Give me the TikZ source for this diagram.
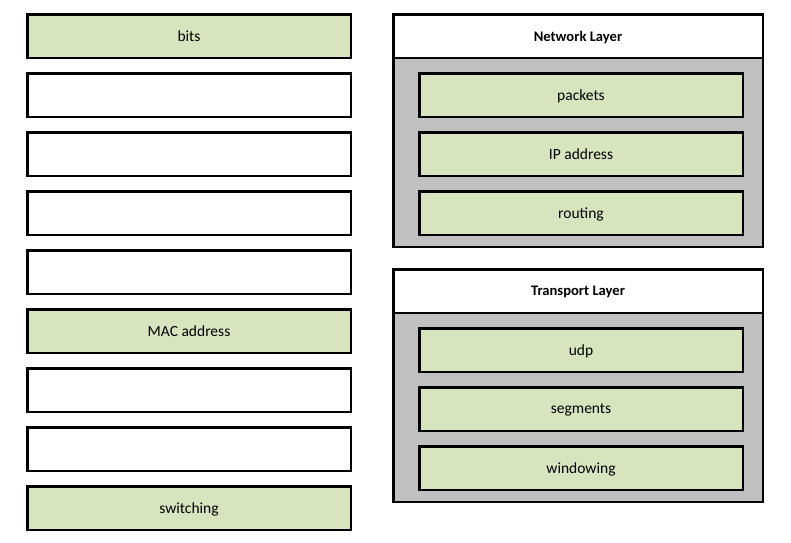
\documentclass[tikz,border=0pt]{standalone}
\usepackage{fontspec}
\setmainfont{Carlito}
\definecolor{boxgreen}{HTML}{D7E4BD}
\definecolor{panelgray}{HTML}{C0C0C0}
\begin{document}
\begin{tikzpicture}[x=1pt,y=-1pt,
  cell/.style={draw=black,line width=2.5pt,minimum width=323.5pt,minimum height=43.5pt,inner sep=0pt,text depth=0pt,font=\fontsize{15.5}{18}\selectfont},
  greencell/.style={cell,fill=boxgreen},
  whitecell/.style={cell,fill=white},
  panel/.style={draw=black,line width=2.5pt,fill=panelgray,minimum width=369.5pt,minimum height=232.5pt,inner sep=0pt},
  header/.style={draw=black,line width=2.5pt,fill=white,minimum width=369.5pt,minimum height=43.5pt,inner sep=0pt,text depth=0pt,font=\fontsize{14.6}{17}\selectfont\bfseries}]
\useasboundingbox (0,0) rectangle (791,542);
% left column
\node[greencell] (l1) at (189,36) {bits};
\node[whitecell] (l2) at (189,95) {};
\node[whitecell] (l3) at (189,154) {};
\node[whitecell] (l4) at (189,213) {};
\node[whitecell] (l5) at (189,272) {};
\node[greencell] (l6) at (189,331) {MAC address};
\node[whitecell] (l7) at (189,390) {};
\node[whitecell] (l8) at (189,449) {};
\node[greencell] (l9) at (189,508) {switching};
% network layer
\node[panel] (np) at (578,130.5) {};
\node[header] (nh) at (578,36) {Network Layer};
\node[greencell] (n1) at (581,95) {packets};
\node[greencell] (n2) at (581,154) {IP address};
\node[greencell] (n3) at (581,213) {routing};
% transport layer
\node[panel] (tp) at (578,385.5) {};
\node[header] (th) at (578,291) {Transport Layer};
\node[greencell] (t1) at (581,350) {udp};
\node[greencell] (t2) at (581,409) {segments};
\node[greencell] (t3) at (581,468) {windowing};
\end{tikzpicture}
\end{document}
